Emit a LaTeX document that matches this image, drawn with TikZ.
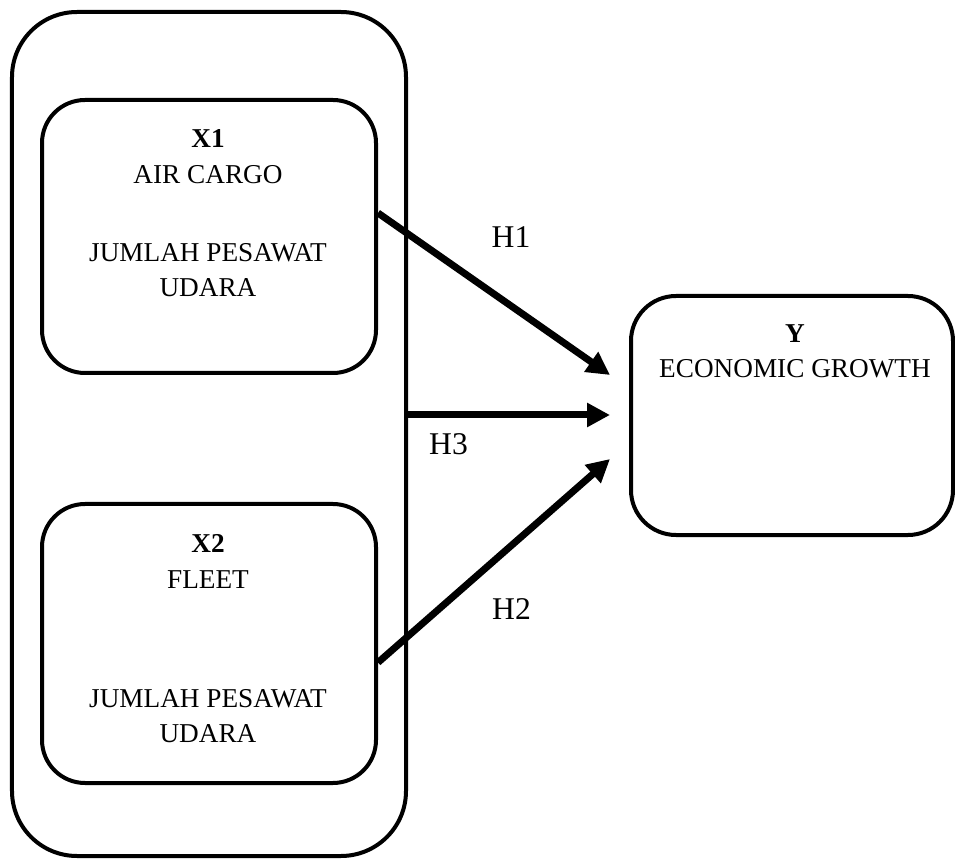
\documentclass[tikz,border=0pt]{standalone}
\usepackage{fontspec}
\setmainfont{Liberation Serif}
\usepackage{tikz}
\usetikzlibrary{arrows.meta}

\begin{document}
\begin{tikzpicture}[
  box/.style={draw,line width=0.08cm,rounded corners=0.86cm},
  lbl/.style={anchor=base,inner sep=0pt,font=\fontsize{15.5pt}{18pt}\selectfont},
  hlbl/.style={anchor=base,inner sep=0pt,font=\fontsize{18pt}{20pt}\selectfont},
  hyp/.style={line width=0.14cm,-{Triangle[length=0.46cm,width=0.46cm]}}]
\useasboundingbox (0,0) rectangle (19.1,17.22);

% Outer group
\node[box,rounded corners=1.3cm,minimum width=7.88cm,minimum height=16.88cm] (outer) at (4.18,8.54) {};

% Independent variables
\node[box,minimum width=6.68cm,minimum height=5.46cm] (x1) at (4.18,12.49) {};
\node[box,minimum width=6.68cm,minimum height=5.58cm] (x2) at (4.18,4.35) {};

\node[lbl] (x1a) at (4.16,14.26) {\textbf{X1}};
\node[lbl] (x1b) at (4.16,13.54) {AIR CARGO};
\node[lbl] (x1c) at (4.16,11.98) {JUMLAH PESAWAT};
\node[lbl] (x1d) at (4.16,11.28) {UDARA};

\node[lbl] (x2a) at (4.16,6.18) {\textbf{X2}};
\node[lbl] (x2b) at (4.16,5.46) {FLEET};
\node[lbl] (x2c) at (4.16,3.08) {JUMLAH PESAWAT};
\node[lbl] (x2d) at (4.16,2.38) {UDARA};

% Dependent variable
\node[box,rounded corners=0.9cm,minimum width=6.44cm,minimum height=4.78cm] (y) at (15.84,8.91) {};
\node[lbl] (ya) at (15.9,10.36) {\textbf{Y}};
\node[lbl] (yb) at (15.9,9.66) {ECONOMIC GROWTH};

% Hypotheses
\coordinate (t1) at (12.2,9.72);
\coordinate (t3) at (12.2,8.92);
\coordinate (t2) at (12.2,8.04);

\draw[hyp] ([yshift=0.47cm]x1.east) -- (t1);
\draw[hyp] ([yshift=0.38cm]outer.east) -- (t3);
\draw[hyp] ([yshift=-0.38cm]x2.east) -- (t2);

\node[hlbl] (h1) at (10.22,12.26) {H1};
\node[hlbl] (h3) at (8.97,8.12) {H3};
\node[hlbl] (h2) at (10.23,4.84) {H2};
\end{tikzpicture}
\end{document}
